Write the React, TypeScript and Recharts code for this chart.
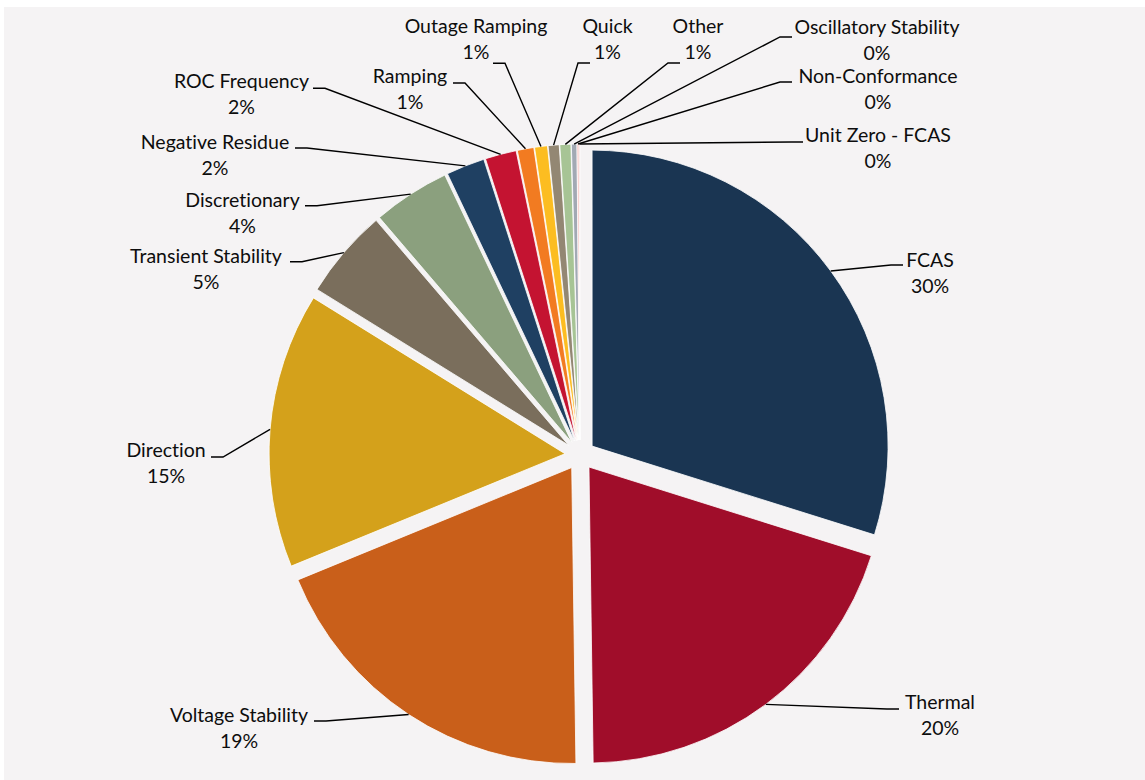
import React from 'react';
import { PieChart, Pie, Cell, Sector } from 'recharts';

// ---- data ----
const categories = [
  'FCAS',
  'Thermal',
  'Voltage Stability',
  'Direction',
  'Transient Stability',
  'Discretionary',
  'Negative Residue',
  'ROC Frequency',
  'Ramping',
  'Outage Ramping',
  'Quick',
  'Other',
  'Oscillatory Stability',
  'Non-Conformance',
  'Unit Zero - FCAS',
];
const shares = [29.8, 19.9, 19.0, 15.0, 4.9, 4.2, 2.1, 1.7, 0.9, 0.7, 0.6, 0.6, 0.3, 0.1, 0.05];
const sliceColors = [
  '#1A3552',
  '#A00D2A',
  '#C95F1A',
  '#D4A11B',
  '#7A6E5C',
  '#8BA07E',
  '#1F4062',
  '#C41331',
  '#F27B21',
  '#FCBD21',
  '#938773',
  '#A7C495',
  '#A2A9B4',
  '#F3A8A4',
  '#EBC7C7',
];

// ---- layout (label text centre / first baseline, leader attach point) ----
type LabelPos = { tx: number; ty: number; ax: number; ay: number; dir: number };
const labelLayout: Record<string, LabelPos> = {
  FCAS: { tx: 930, ty: 266.5, ax: 903, ay: 265, dir: -1 },
  Thermal: { tx: 940, ty: 709, ax: 899, ay: 709, dir: -1 },
  'Voltage Stability': { tx: 239, ty: 721.5, ax: 314, ay: 721, dir: 1 },
  Direction: { tx: 166, ty: 456.7, ax: 211, ay: 457, dir: 1 },
  'Transient Stability': { tx: 206, ty: 263.3, ax: 290, ay: 261.7, dir: 1 },
  Discretionary: { tx: 242.5, ty: 206.7, ax: 305, ay: 205.7, dir: 1 },
  'Negative Residue': { tx: 215, ty: 149.3, ax: 295, ay: 148, dir: 1 },
  'ROC Frequency': { tx: 241.5, ty: 88.3, ax: 313, ay: 88.3, dir: 1 },
  Ramping: { tx: 410, ty: 83.3, ax: 453, ay: 83, dir: 1 },
  'Outage Ramping': { tx: 476, ty: 32.7, ax: 493, ay: 63.3, dir: 1 },
  Quick: { tx: 607.5, ty: 33.3, ax: 590, ay: 63, dir: -1 },
  Other: { tx: 698, ty: 33.3, ax: 680, ay: 63, dir: -1 },
  'Oscillatory Stability': { tx: 877, ty: 34, ax: 792, ay: 37, dir: -1 },
  'Non-Conformance': { tx: 878, ty: 83.3, ax: 792, ay: 82, dir: -1 },
  'Unit Zero - FCAS': { tx: 878, ty: 141.7, ax: 803, ay: 142, dir: -1 },
};

const BG = '#F5F3F4';
const EXPLODE = 15;
const ELBOW = 12;
const LINE_GAP = 26;
const FONT = 'Lato, "Open Sans", sans-serif';
const FONT_SIZE = 19.5;
const RAD = Math.PI / 180;

const chartData = categories.map((name, i) => ({ name, value: shares[i] }));

const renderSlice = (props: any) => {
  const { cx, cy, midAngle, startAngle, endAngle, innerRadius, outerRadius, index } = props;
  const dx = EXPLODE * Math.cos(-midAngle * RAD);
  const dy = EXPLODE * Math.sin(-midAngle * RAD);
  return (
    <Sector
      cx={cx + dx}
      cy={cy + dy}
      innerRadius={innerRadius}
      outerRadius={outerRadius}
      startAngle={startAngle}
      endAngle={endAngle}
      fill={sliceColors[index]}
      stroke="#FFFFFF"
      strokeWidth={0.8}
    />
  );
};

const textStyle: React.CSSProperties = { fontVariantLigatures: 'none' };

const renderLabel = (props: any) => {
  const { cx, cy, midAngle, outerRadius, name, percent } = props;
  const pos = labelLayout[name];
  if (!pos) return null;
  const r = outerRadius + EXPLODE;
  const px = cx + r * Math.cos(-midAngle * RAD);
  const py = cy + r * Math.sin(-midAngle * RAD);
  const ex = pos.ax + pos.dir * ELBOW;
  const pct = `${Math.round(percent * 100)}%`;
  return (
    <g>
      <polyline
        points={`${px},${py} ${ex},${pos.ay} ${pos.ax},${pos.ay}`}
        fill="none"
        stroke="#000000"
        strokeWidth={1.4}
      />
      <text
        x={pos.tx}
        y={pos.ty}
        textAnchor="middle"
        fontFamily={FONT}
        fontSize={FONT_SIZE}
        fill="#0D0D0D"
        style={textStyle}
      >
        {name}
      </text>
      <text
        x={pos.tx}
        y={pos.ty + LINE_GAP}
        textAnchor="middle"
        fontFamily={FONT}
        fontSize={FONT_SIZE}
        fill="#0D0D0D"
        style={textStyle}
      >
        {pct}
      </text>
    </g>
  );
};

export default function App() {
  return (
    <div style={{ position: 'absolute', left: 0, top: 0, width: 1145, height: 780, background: '#FFFFFF' }}>
      <div style={{ position: 'absolute', left: 4, top: 7, width: 1141, height: 773, background: BG }} />
      <div style={{ position: 'absolute', left: 0, top: 0 }}>
        <PieChart width={1145} height={780} margin={{ top: 0, right: 0, bottom: 0, left: 0 }}>
          <Pie
            data={chartData}
            dataKey="value"
            nameKey="name"
            cx={580}
            cy={455}
            outerRadius={296}
            startAngle={90}
            endAngle={-270}
            isAnimationActive={false}
            labelLine={false}
            label={renderSlice}
            stroke="none"
          >
            {chartData.map((d) => (
              <Cell key={d.name} fill="transparent" stroke="none" />
            ))}
          </Pie>
          <Pie
            data={chartData}
            dataKey="value"
            nameKey="name"
            cx={580}
            cy={455}
            outerRadius={296}
            startAngle={90}
            endAngle={-270}
            isAnimationActive={false}
            labelLine={false}
            label={renderLabel}
            stroke="none"
          >
            {chartData.map((d) => (
              <Cell key={d.name} fill="transparent" stroke="none" />
            ))}
          </Pie>
        </PieChart>
      </div>
    </div>
  );
}
